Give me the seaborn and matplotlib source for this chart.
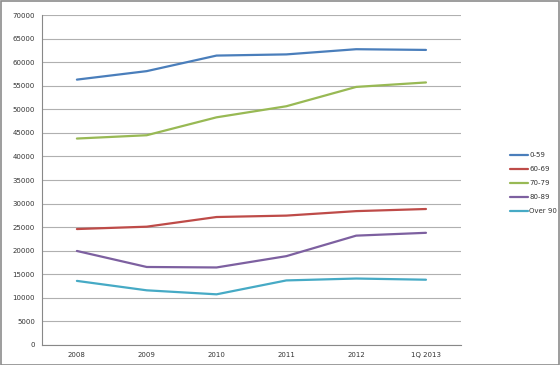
import pandas as pd
import numpy as np
import matplotlib
matplotlib.use('Agg')
import matplotlib.pyplot as plt
import seaborn as sns

years = ['2008', '2009', '2010', '2011', '2012', '1Q 2013']
groups = ['0-59', '60-69', '70-79', '80-89', 'Over 90']
age_0_59 = [56300, 58100, 61400, 61650, 62750, 62600]
age_60_69 = [24600, 25100, 27150, 27450, 28400, 28850]
age_70_79 = [43800, 44500, 48300, 50650, 54750, 55700]
age_80_89 = [19950, 16550, 16450, 18850, 23200, 23800]
age_over_90 = [13600, 11600, 10750, 13700, 14100, 13850]
colors = ['#4A7EBB', '#BE4B48', '#98B954', '#7D60A0', '#46AAC5']

series = [age_0_59, age_60_69, age_70_79, age_80_89, age_over_90]
df = pd.DataFrame({
    'year': years * len(groups),
    'group': np.repeat(groups, len(years)),
    'value': np.concatenate(series),
})

sns.set_style('white')
plt.rcParams['font.family'] = ['DejaVu Sans']

fig = plt.figure(figsize=(5.6, 3.65), dpi=100)
ax = fig.add_axes([0.075, 0.0548, 0.748, 0.904])

sns.lineplot(data=df, x='year', y='value', hue='group', palette=colors,
             linewidth=1.6, ax=ax, sort=False)

ax.set_xlim(-0.5, 5.5)
ax.set_ylim(0, 70000)
ax.set_yticks(range(0, 70001, 5000))
ax.yaxis.grid(True, color='#B0B0B0', linewidth=0.8)
ax.set_axisbelow(True)
ax.set_xlabel('')
ax.set_ylabel('')

# category boundary tick marks
ax.set_xticks(np.arange(-0.5, 5.6, 1), minor=True)
ax.tick_params(axis='x', which='major', length=0, labelsize=5, colors='#333333', pad=5)
ax.tick_params(axis='x', which='minor', length=3, color='#888888', direction='out')
ax.tick_params(axis='y', length=3, color='#888888', labelsize=5, labelcolor='#333333', direction='out', pad=2)

for s in ['top', 'right']:
    ax.spines[s].set_visible(False)
for s in ['left', 'bottom']:
    ax.spines[s].set_color('#888888')
    ax.spines[s].set_linewidth(0.8)

leg = ax.legend(loc='center left', bbox_to_anchor=(1.11, 0.49), frameon=False,
                fontsize=5, handlelength=2.6, handletextpad=0.1,
                labelspacing=1.15, borderpad=0)
for t in leg.get_texts():
    t.set_color('#333333')

fig.patches.append(plt.Rectangle((0.001, 0.001), 0.997, 0.996, transform=fig.transFigure,
                                 fill=False, edgecolor='#8C8C8C', linewidth=1.2))

fig.savefig('out.png', dpi=100)
